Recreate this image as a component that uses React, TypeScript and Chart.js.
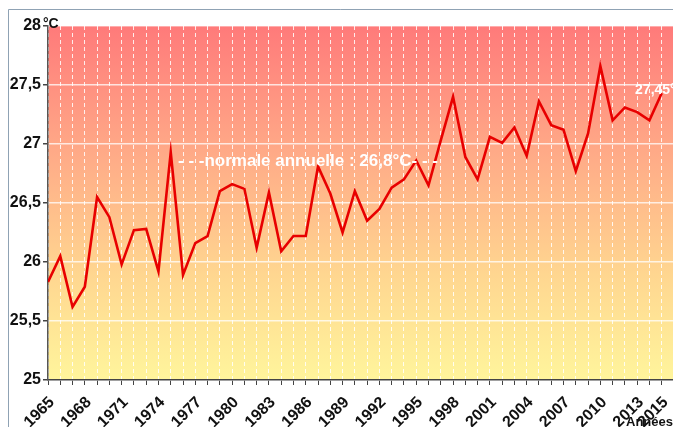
import React, { useEffect, useRef } from "react";
import { Chart, registerables } from "chart.js";

Chart.register(...registerables);

const years: number[] = [
  1965, 1966, 1967, 1968, 1969, 1970, 1971, 1972, 1973, 1974,
  1975, 1976, 1977, 1978, 1979, 1980, 1981, 1982, 1983, 1984,
  1985, 1986, 1987, 1988, 1989, 1990, 1991, 1992, 1993, 1994,
  1995, 1996, 1997, 1998, 1999, 2000, 2001, 2002, 2003, 2004,
  2005, 2006, 2007, 2008, 2009, 2010, 2011, 2012, 2013, 2014, 2015,
];

const temperatures: number[] = [
  25.83, 26.05, 25.62, 25.79, 26.55, 26.38, 25.98, 26.27, 26.28, 25.92,
  26.93, 25.89, 26.16, 26.22, 26.60, 26.66, 26.62, 26.12, 26.59, 26.09,
  26.22, 26.22, 26.81, 26.58, 26.25, 26.60, 26.35, 26.45, 26.63, 26.70,
  26.86, 26.65, 27.03, 27.40, 26.89, 26.70, 27.06, 27.01, 27.14, 26.90,
  27.36, 27.16, 27.12, 26.77, 27.09, 27.66, 27.20, 27.31, 27.27, 27.20, 27.43,
];

const labelYears: number[] = [
  1965, 1968, 1971, 1974, 1977, 1980, 1983, 1986, 1989, 1992, 1995, 1998,
  2001, 2004, 2007, 2010, 2013, 2015,
];

const yTicks: number[] = [25, 25.5, 26, 26.5, 27, 27.5, 28];

const normalValue = 26.8;
const normalText = "- - -normale annuelle : 26,8°C- - -";
const lastLabel = "27,45°";
const unitLabel = "°C";
const xAxisTitle = "Années";

const FONT = "'Liberation Sans', Arial, Helvetica, sans-serif";

const decorPlugin = {
  id: "decor",
  beforeDraw(chart: any) {
    const { ctx, chartArea, width, height } = chart;
    ctx.save();
    ctx.fillStyle = "#ffffff";
    ctx.fillRect(0, 0, width, height);
    const g = ctx.createLinearGradient(0, chartArea.top, 0, chartArea.bottom);
    g.addColorStop(0, "#ff7a7a");
    g.addColorStop(0.35, "#ffa987");
    g.addColorStop(0.7, "#ffd690");
    g.addColorStop(1, "#fff59c");
    ctx.fillStyle = g;
    ctx.fillRect(chartArea.left, chartArea.top, chartArea.right - chartArea.left, chartArea.bottom - chartArea.top);
    // frame
    ctx.strokeStyle = "#8fa2b4";
    ctx.lineWidth = 1;
    ctx.beginPath();
    ctx.moveTo(8.5, height);
    ctx.lineTo(8.5, 9.5);
    ctx.lineTo(width, 9.5);
    ctx.stroke();
    ctx.restore();
  },
  afterDatasetsDraw(chart: any) {
    const { ctx, scales } = chart;
    const xs = scales.x;
    const ys = scales.y;
    ctx.save();
    // normal annotation
    ctx.fillStyle = "#ffffff";
    ctx.font = `bold 17px ${FONT}`;
    ctx.textAlign = "left";
    ctx.textBaseline = "alphabetic";
    ctx.fillText(normalText, 178, ys.getPixelForValue(normalValue) - 2);
    // last value label
    ctx.font = `bold 14px ${FONT}`;
    ctx.textAlign = "right";
    const lx = xs.getPixelForValue(years[years.length - 1]);
    const ly = ys.getPixelForValue(temperatures[temperatures.length - 1]);
    ctx.fillText(lastLabel, lx + 14, ly + 1);
    // unit
    ctx.fillStyle = "#111111";
    ctx.font = `bold 14px ${FONT}`;
    ctx.textAlign = "left";
    ctx.fillText(unitLabel, 43, ys.getPixelForValue(28) + 2);
    // x title
    ctx.font = `bold 13px ${FONT}`;
    ctx.textAlign = "right";
    ctx.textBaseline = "bottom";
    ctx.fillText(xAxisTitle, chart.width, chart.height + 2);
    ctx.restore();
  },
};

export default function App() {
  const ref = useRef<HTMLCanvasElement | null>(null);

  useEffect(() => {
    document.body.style.margin = "0";
    const canvas = ref.current;
    if (!canvas) return;
    const chart = new Chart(canvas, {
      type: "line",
      data: {
        datasets: [
          {
            data: years.map((y, i) => ({ x: y, y: temperatures[i] })),
            borderColor: "#e80000",
            borderWidth: 2.6,
            pointRadius: 0,
            tension: 0,
            fill: false,
          },
        ],
      },
      options: {
        animation: false,
        responsive: false,
        devicePixelRatio: 1,
        layout: { padding: { top: 26, left: 0, right: 0, bottom: 0 } },
        plugins: {
          legend: { display: false },
          title: { display: false },
          tooltip: { enabled: false },
        },
        scales: {
          x: {
            type: "linear",
            min: 1965,
            max: 2015.92,
            afterBuildTicks: (scale: any) => {
              scale.ticks = years.map((v) => ({ value: v }));
            },
            afterFit: (scale: any) => {
              scale.height = 47;
              scale.paddingLeft = 0;
              scale.paddingRight = 0;
            },
            grid: {
              color: "rgba(255,255,255,0.85)",
              lineWidth: 1,
              tickLength: 5,
              tickColor: "#444",
              drawTicks: true,
            },
            border: { display: true, color: "#444", width: 1.5, dash: [4, 3] },
            ticks: {
              autoSkip: false,
              maxRotation: 45,
              minRotation: 45,
              padding: 8,
              labelOffset: 4,
              color: "#111",
              font: { family: FONT, size: 16, weight: "bold" },
              callback: (v: any) => (labelYears.includes(Number(v)) ? String(v) : ""),
            },
          },
          y: {
            min: 25,
            max: 28,
            afterBuildTicks: (scale: any) => {
              scale.ticks = yTicks.map((v) => ({ value: v }));
            },
            afterFit: (scale: any) => {
              scale.width = 48;
              scale.paddingTop = 0;
              scale.paddingBottom = 0;
            },
            grid: {
              color: "rgba(255,255,255,0.75)",
              lineWidth: 1.5,
              tickLength: 5,
              tickColor: "#444",
            },
            border: { display: true, color: "#555", width: 1.5 },
            ticks: {
              padding: 2,
              color: "#111",
              font: { family: FONT, size: 16, weight: "bold" },
              callback: (v: any) => String(v).replace(".", ","),
            },
          },
        },
      },
      plugins: [decorPlugin],
    });
    return () => chart.destroy();
  }, []);

  return (
    <div style={{ width: 673, height: 427 }}>
      <canvas ref={ref} width={673} height={427} style={{ display: "block", width: 673, height: 427 }} />
    </div>
  );
}
